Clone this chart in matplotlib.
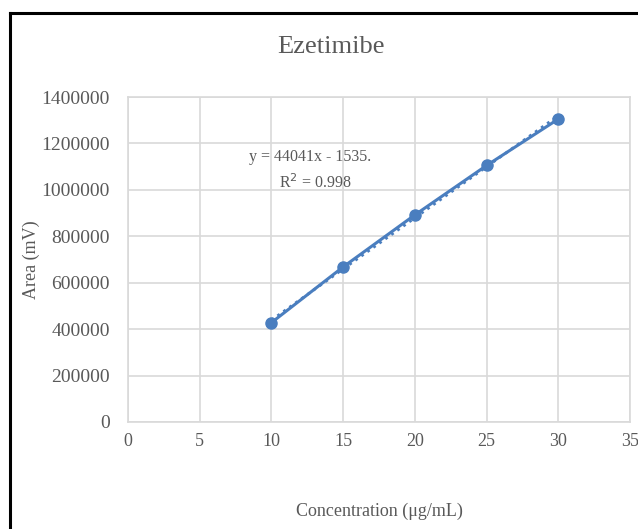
import matplotlib
matplotlib.use("Agg")
import matplotlib.pyplot as plt
from matplotlib.lines import Line2D
import numpy as np

# Data
concentration = [10, 15, 20, 25, 30]
area = [428000, 668000, 892000, 1105000, 1305000]
slope = 44041
intercept = -1535
r2 = 0.998
x_ticks = [0, 5, 10, 15, 20, 25, 30, 35]
y_ticks = [0, 200000, 400000, 600000, 800000, 1000000, 1200000, 1400000]

plt.rcParams['font.family'] = ['Liberation Serif', 'DejaVu Serif']

W, H = 638, 529
fig = plt.figure(figsize=(W / 100, H / 100), dpi=100)
ax = fig.add_axes([128 / W, 1 - 422 / H, (630 - 128) / W, (422 - 97) / H])

blue = '#4A7EBF'
txt = '#595959'
grid = '#D9D9D9'

ax.plot(concentration, area, color=blue, lw=2.2, marker='o', ms=8,
        zorder=3, solid_capstyle='round')
xs = np.array([concentration[0], concentration[-1]])
ax.plot(xs, slope * xs + intercept, color=blue, lw=2, ls=':', zorder=2)

ax.set_xlim(0, 35)
ax.set_ylim(0, 1400000)
ax.set_xticks(x_ticks)
ax.set_yticks(y_ticks)
ax.set_xticklabels([str(v) for v in x_ticks])
ax.set_yticklabels([str(v) for v in y_ticks])
ax.grid(True, color=grid, lw=1.2)
ax.set_axisbelow(True)
for s in ax.spines.values():
    s.set_color(grid)
    s.set_linewidth(1.2)
ax.tick_params(length=0, colors=txt, labelsize=13)
ax.tick_params(axis='x', pad=8)
ax.tick_params(axis='y', pad=13, labelsize=14)

ax.set_xlabel('Concentration (μg/mL)', color=txt, fontsize=13, labelpad=38)
ax.set_ylabel('Area (mV)', color=txt, fontsize=13, labelpad=1)

fig.text(331 / W, 1 - 47 / H, 'Ezetimibe', ha='center', va='center',
         fontsize=19, color=txt)

ax.text(0.242, 0.815, 'y = 44041x - 1535.', transform=ax.transAxes,
        fontsize=11.5, color=txt, ha='left', va='center')
ax.text(0.30, 0.735, 'R$^2$ = 0.998', transform=ax.transAxes,
        fontsize=11.5, color=txt, ha='left', va='center')

# outer frame (left and top edges visible)
fig.add_artist(Line2D([9.5 / W, 9.5 / W], [0, 1 - 12.5 / H], color='black',
                      lw=2.2, transform=fig.transFigure))
fig.add_artist(Line2D([9.5 / W, 1], [1 - 12.5 / H, 1 - 12.5 / H], color='black',
                      lw=2.2, transform=fig.transFigure))

fig.savefig('out.png', dpi=100)
